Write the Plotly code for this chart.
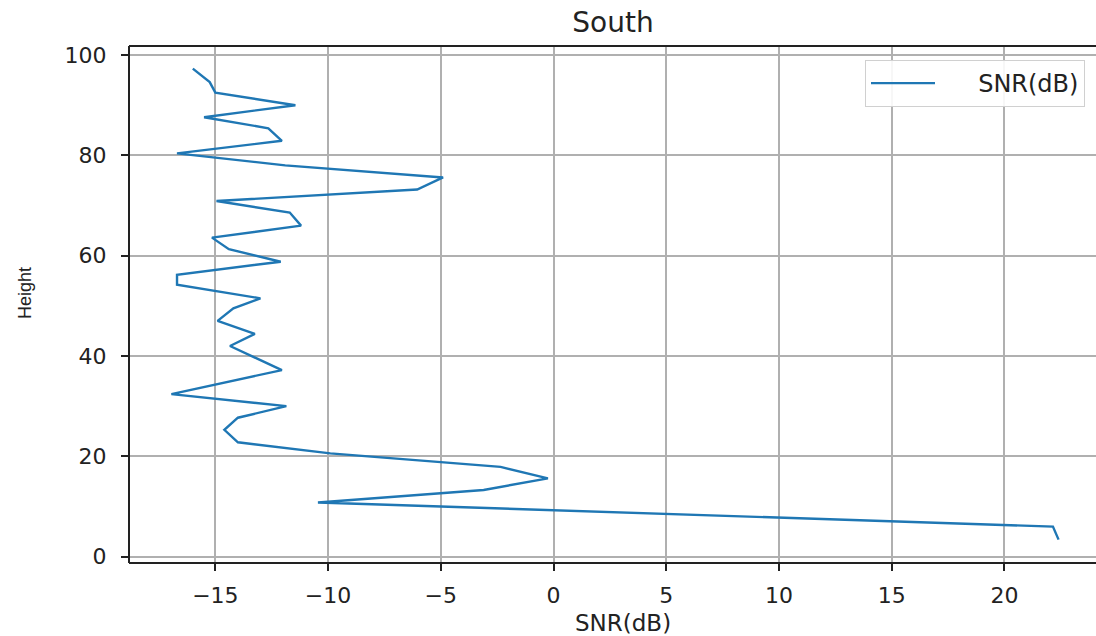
import plotly.graph_objects as go

# Data (Height vs SNR in dB)
height = [97.3, 94.6, 92.5, 90.0, 87.6, 85.4, 82.9, 80.4, 78.0, 75.6, 73.2, 70.9,
          68.6, 66.0, 63.6, 61.3, 58.8, 56.2, 54.2, 51.5, 49.5, 47.0, 44.4, 42.0,
          37.2, 32.4, 30.0, 27.7, 25.3, 22.8, 20.6, 17.9, 15.6, 13.3, 10.8, 6.0, 3.4]
snr_db = [-16.0, -15.25, -15.0, -11.45, -15.5, -12.65, -12.05, -16.7, -11.9, -4.9, -6.05, -14.95,
          -11.7, -11.2, -15.15, -14.4, -12.1, -16.7, -16.7, -13.0, -14.2, -14.9, -13.25, -14.35,
          -12.05, -16.95, -11.85, -14.0, -14.6, -14.0, -9.9, -2.35, -0.25, -3.1, -10.45, 22.15, 22.4]

x_ticks = [-15, -10, -5, 0, 5, 10, 15, 20]
y_ticks = [0, 20, 40, 60, 80, 100]

series_name = "SNR(dB)"
title_text = "South"
x_label = "SNR(dB)"
y_label = "Height"

W, H = 1096, 636
L, T, B = 129, 46, 73
plot_w = W - L
plot_h = H - T - B

fig = go.Figure()
fig.add_trace(go.Scatter(
    x=snr_db, y=height, mode="lines", name="\u00a0\u00a0\u00a0\u00a0\u00a0" + series_name,
    line=dict(color="#1f77b4", width=2.4),
))

tick_font = dict(family="DejaVu Sans", size=22, color="#222222")
spine = dict(color="#222222", width=2)

fig.update_layout(
    width=W, height=H,
    margin=dict(l=L, r=0, t=T, b=B, pad=0),
    paper_bgcolor="white", plot_bgcolor="white",
    showlegend=True,
    legend=dict(
        x=(1085 - L) / plot_w, y=(H - B - 60) / plot_h,
        xanchor="right", yanchor="top",
        bgcolor="rgba(255,255,255,0.9)", bordercolor="#d0d0d0", borderwidth=1,
        font=dict(family="DejaVu Sans", size=24, color="#222222"),
        itemwidth=64,
    ),
    title=dict(
        text=title_text, x=613 / W, y=1 - 22 / H, xref="container", yref="container",
        xanchor="center", yanchor="middle",
        font=dict(family="DejaVu Sans", size=28, color="#222222"),
    ),
    xaxis=dict(
        range=[-18.83, 24.06], tickmode="array", tickvals=x_ticks,
        showgrid=True, gridcolor="#b0b0b0", gridwidth=1.5,
        zeroline=False, showline=False,
        ticks="outside", ticklen=7, tickwidth=1.5, tickcolor="#222222",
        tickfont=tick_font, ticklabelstandoff=6,
    ),
    yaxis=dict(
        range=[-1.26, 101.8], tickmode="array", tickvals=y_ticks,
        showgrid=True, gridcolor="#b0b0b0", gridwidth=1.5,
        zeroline=False, showline=False,
        ticks="outside", ticklen=7, tickwidth=1.5, tickcolor="#222222",
        tickfont=tick_font, ticklabelstandoff=10,
    ),
    shapes=[
        dict(type="line", xref="paper", yref="paper", x0=0, x1=1, y0=0, y1=0, line=spine),
        dict(type="line", xref="paper", yref="paper", x0=0, x1=1, y0=1, y1=1, line=spine),
        dict(type="line", xref="paper", yref="paper", x0=0, x1=0, y0=0, y1=1, line=spine),
    ],
    annotations=[
        dict(text=x_label, xref="paper", yref="paper",
             x=(623 - L) / plot_w, y=(H - B - 623) / plot_h,
             xanchor="center", yanchor="middle", showarrow=False,
             font=dict(family="DejaVu Sans", size=23, color="#222222")),
        dict(text=y_label, xref="paper", yref="paper",
             x=(25 - L) / plot_w, y=(H - B - 293) / plot_h,
             xanchor="center", yanchor="middle", showarrow=False, textangle=-90,
             font=dict(family="Liberation Sans", size=18, color="#222222")),
    ],
)

fig.write_html("out.html")
